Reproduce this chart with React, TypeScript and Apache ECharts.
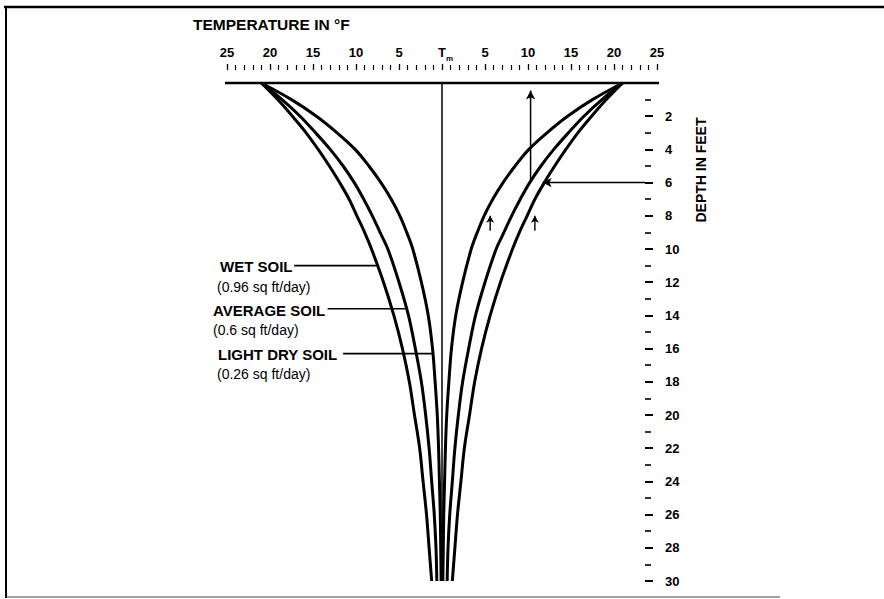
import React, { useEffect, useRef } from 'react';
import * as echarts from 'echarts';

// Depth below surface (ft) and temperature swing from mean (°F)
const depths = [0, 1, 2, 3, 4, 5, 6, 7, 8, 9, 10, 12, 14, 16, 18, 20, 22, 24, 26, 28, 30];
const wetSoil = [21.0, 19.1, 17.4, 15.8, 14.4, 13.1, 11.9, 10.8, 9.9, 9.0, 8.2, 6.8, 5.6, 4.6, 3.8, 3.2, 2.6, 2.2, 1.8, 1.5, 1.2];
const averageSoil = [21.0, 18.6, 16.5, 14.7, 13.0, 11.5, 10.2, 9.1, 8.1, 7.2, 6.3, 5.0, 3.9, 3.1, 2.4, 1.9, 1.5, 1.2, 0.9, 0.7, 0.6];
const lightDrySoil = [21.0, 17.5, 14.6, 12.2, 10.1, 8.5, 7.1, 5.9, 4.9, 4.1, 3.4, 2.4, 1.6, 1.1, 0.8, 0.55, 0.4, 0.3, 0.2, 0.15, 0.1];

// Tick labels
const tempTickValues = [-25, -20, -15, -10, -5, 0, 5, 10, 15, 20, 25];
const tempTickLabels = ['25', '20', '15', '10', '5', 'Tm', '5', '10', '15', '20', '25'];
const depthTickValues = [2, 4, 6, 8, 10, 12, 14, 16, 18, 20, 22, 24, 26, 28, 30];

// Annotation leaders: start temp, end temp (on curve), depth
const soilNames = ['WET SOIL', 'AVERAGE SOIL', 'LIGHT DRY SOIL'];
const soilDiffusivity = ['(0.96 sq ft/day)', '(0.6 sq ft/day)', '(0.26 sq ft/day)'];
const leaderStart = [-17.2, -13.3, -11.5];
const leaderEnd = [-7.4, -4.1, -1.1];
const leaderDepth = [11, 13.6, 16.3];

// Example reading arrows
const readTemp = 10.3;
const readDepth = 6;
const readArrowTip = 11.3;
const readLineStart = 23.6;
const smallArrowTemps = [5.6, 10.8];
const smallArrowDepths = [8.9, 8.0];

const FONT = '"Liberation Sans", Arial, Helvetica, sans-serif';
const BLK = '#000';

export default function App() {
  const ref = useRef<HTMLDivElement>(null);
  useEffect(() => {
    document.body.style.margin = '0';
    const chart = echarts.init(ref.current as HTMLDivElement, null, { renderer: 'svg' });

    const curve = (vals: number[], sign: number) => ({
      type: 'line',
      data: depths.map((d, i) => [sign * vals[i], d]),
      smooth: 0.35,
      symbol: 'none',
      silent: true,
      z: 3,
      lineStyle: { color: BLK, width: 3 },
    });

    const plain = (data: any[], width = 1.5, extra: any = {}) => ({
      type: 'line',
      data,
      symbol: 'none',
      silent: true,
      clip: false,
      z: 4,
      lineStyle: { color: BLK, width },
      itemStyle: { color: BLK },
      ...extra,
    });

    const arrowPt = (x: number, y: number, rot = 0, size: any = [7, 9]) => ({
      value: [x, y],
      symbol: 'arrow',
      symbolSize: size,
      symbolRotate: rot,
    });

    const series: any[] = [
      // surface / temperature axis line
      plain([[-28.1, 0], [28.8, 0]], 2.3),
      // mean temperature line
      plain([[0, 0], [0, 27.5]], 1.5),
      curve(wetSoil, -1),
      curve(averageSoil, -1),
      curve(lightDrySoil, -1),
      curve(wetSoil, 1),
      curve(averageSoil, 1),
      curve(lightDrySoil, 1),
    ];
    soilNames.forEach((_, i) => {
      series.push(plain([[leaderStart[i], leaderDepth[i]], [leaderEnd[i], leaderDepth[i]]], 1.6));
    });
    series.push(plain([{ value: [readTemp, readDepth], symbol: 'none' }, arrowPt(readTemp, 0.45)], 1.5, { showSymbol: true }));
    series.push(plain([{ value: [readLineStart, readDepth], symbol: 'none' }, arrowPt(readArrowTip + 0.4, readDepth, 90)], 1.5, { showSymbol: true }));
    smallArrowTemps.forEach((t) => {
      series.push(plain([{ value: [t, smallArrowDepths[0]], symbol: 'none' }, arrowPt(t, smallArrowDepths[1], 0, [6, 7])], 1.4, { showSymbol: true }));
    });

    const textEl = (text: string, x: number, y: number, font: string) => ({
      type: 'text', silent: true, x, y,
      style: { text, font, fill: BLK, textVerticalAlign: 'middle' },
    });

    const option: any = {
      animation: false,
      backgroundColor: '#fff',
      grid: { left: 227, right: 227, top: 83, bottom: 18, containLabel: false, outerBoundsMode: 'none' },
      xAxis: {
        type: 'value',
        position: 'top',
        min: -25,
        max: 25,
        interval: 5,
        offset: 13,
        axisLine: { show: false, onZero: false },
        axisTick: { show: true, length: 6, lineStyle: { color: BLK, width: 1.3 } },
        minorTick: { show: true, splitNumber: 5, length: 5, lineStyle: { color: BLK, width: 1.2 } },
        splitLine: { show: false },
        minorSplitLine: { show: false },
        axisLabel: {
          margin: 11,
          color: BLK,
          fontFamily: FONT,
          fontWeight: 'bold',
          fontSize: 13,
          formatter: (v: number) => {
            const idx = tempTickValues.indexOf(v);
            const lab = idx >= 0 ? tempTickLabels[idx] : '';
            return lab === 'Tm' ? '{t|T}{m|m}' : lab;
          },
          rich: {
            t: { fontFamily: FONT, fontWeight: 'bold', fontSize: 13, color: BLK, padding: [0, 0, 0, 7], verticalAlign: 'bottom', lineHeight: 14 },
            m: { fontFamily: FONT, fontWeight: 'bold', fontSize: 8, color: BLK, verticalAlign: 'bottom', lineHeight: 9, padding: [0, 0, -3, 0] },
          },
        },
      },
      yAxis: {
        type: 'value',
        position: 'right',
        inverse: true,
        min: 0,
        max: 30,
        interval: 2,
        offset: -12,
        axisLine: { show: false, onZero: false },
        axisTick: { show: true, length: 8, lineStyle: { color: BLK, width: 2 } },
        minorTick: { show: true, splitNumber: 2, length: 6, lineStyle: { color: BLK, width: 1.6 } },
        splitLine: { show: false },
        minorSplitLine: { show: false },
        axisLabel: {
          margin: 20,
          color: BLK,
          fontFamily: FONT,
          fontWeight: 'bold',
          fontSize: 13,
          formatter: (v: number) => (depthTickValues.indexOf(v) >= 0 ? String(v) : ''),
        },
      },
      series,
      graphic: [
        { type: 'line', silent: true, shape: { x1: 4, y1: 7, x2: 884, y2: 7 }, style: { stroke: BLK, lineWidth: 2.5 } },
        { type: 'line', silent: true, shape: { x1: 6, y1: 6, x2: 6, y2: 598 }, style: { stroke: BLK, lineWidth: 2 } },
        { type: 'line', silent: true, shape: { x1: 6, y1: 597, x2: 780, y2: 597 }, style: { stroke: '#444', lineWidth: 1.2 } },
        textEl('TEMPERATURE IN °F', 193, 24, `bold 15.5px ${FONT}`),
        {
          type: 'text', silent: true, x: 701, y: 170, rotation: Math.PI / 2,
          style: { text: 'DEPTH IN FEET', font: `bold 14px ${FONT}`, fill: BLK, textAlign: 'center', textVerticalAlign: 'middle' },
        },
        textEl(soilNames[0], 220, 266, `bold 15px ${FONT}`),
        textEl(soilDiffusivity[0], 217, 287, `14px ${FONT}`),
        textEl(soilNames[1], 213, 310, `bold 15px ${FONT}`),
        textEl(soilDiffusivity[1], 213, 330, `14px ${FONT}`),
        textEl(soilNames[2], 218, 354, `bold 15px ${FONT}`),
        textEl(soilDiffusivity[2], 217, 374, `14px ${FONT}`),
      ],
    };
    chart.setOption(option);
    return () => chart.dispose();
  }, []);
  return <div ref={ref} style={{ position: 'absolute', left: 0, top: 0, width: 884, height: 599, background: '#fff' }} />;
}
